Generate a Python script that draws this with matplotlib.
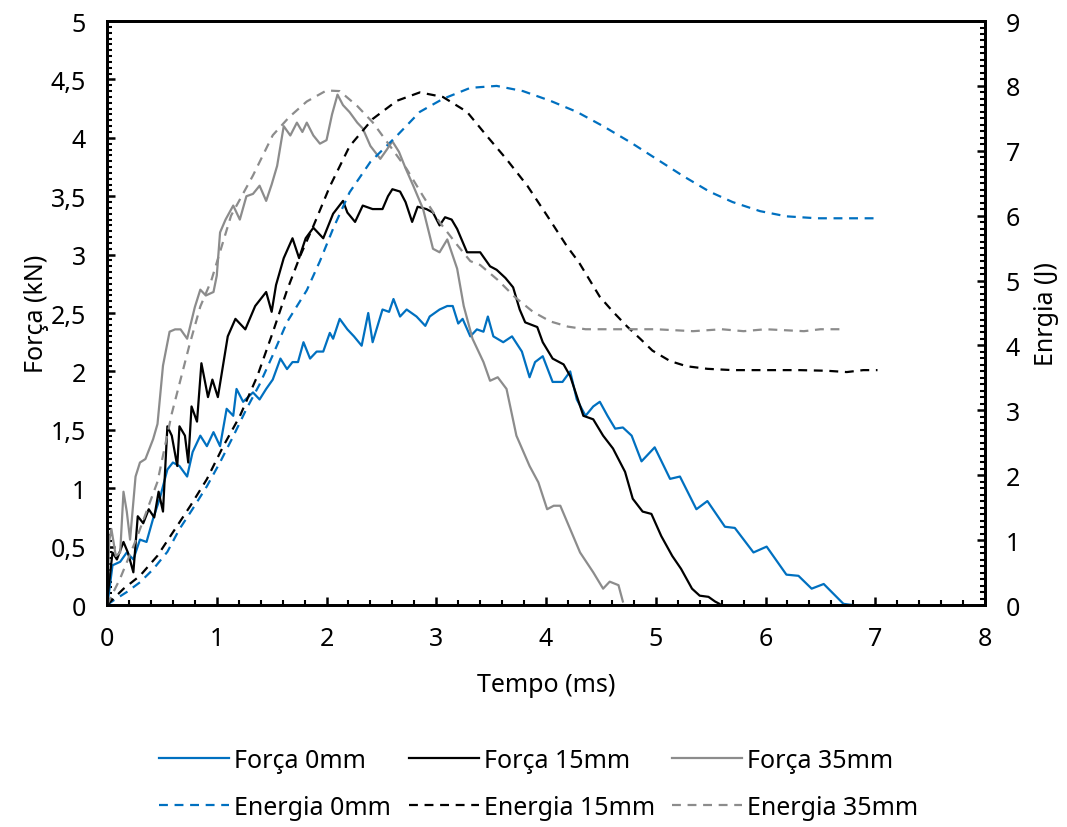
import matplotlib
matplotlib.use("Agg")
import matplotlib.pyplot as plt
from matplotlib.ticker import MultipleLocator, FuncFormatter

plt.rcParams['font.family'] = ['Noto Sans', 'DejaVu Sans']

# Força 0mm (kN)
f0_t = [0.0, 0.01, 0.05, 0.12, 0.18, 0.24, 0.30, 0.36, 0.42, 0.48, 0.55, 0.60, 0.66, 0.73,
        0.78, 0.85, 0.91, 0.97, 1.03, 1.09, 1.15, 1.18, 1.24, 1.33, 1.39, 1.45, 1.51, 1.58,
        1.64, 1.69, 1.74, 1.79, 1.85, 1.91, 1.97, 2.03, 2.06, 2.12, 2.19, 2.25, 2.32, 2.38,
        2.42, 2.51, 2.57, 2.61, 2.67, 2.73, 2.82, 2.90, 2.94, 3.03, 3.10, 3.15, 3.20, 3.24,
        3.31, 3.37, 3.43, 3.47, 3.52, 3.61, 3.69, 3.78, 3.85, 3.90, 3.97, 4.06, 4.15, 4.22,
        4.28, 4.36, 4.43, 4.49, 4.56, 4.63, 4.70, 4.78, 4.87, 4.99, 5.13, 5.22, 5.37, 5.47,
        5.63, 5.72, 5.89, 6.01, 6.19, 6.30, 6.42, 6.53, 6.71, 6.79]
f0_v = [0.0, 0.05, 0.34, 0.37, 0.45, 0.39, 0.56, 0.54, 0.74, 0.91, 1.16, 1.22, 1.19, 1.10,
        1.31, 1.45, 1.36, 1.48, 1.36, 1.68, 1.62, 1.85, 1.74, 1.82, 1.76, 1.85, 1.93, 2.11,
        2.02, 2.08, 2.08, 2.25, 2.11, 2.17, 2.17, 2.33, 2.28, 2.45, 2.36, 2.30, 2.22, 2.50,
        2.25, 2.53, 2.51, 2.62, 2.47, 2.53, 2.47, 2.39, 2.47, 2.53, 2.56, 2.56, 2.41, 2.45,
        2.30, 2.36, 2.34, 2.47, 2.30, 2.25, 2.30, 2.17, 1.95, 2.08, 2.13, 1.91, 1.91, 2.00,
        1.76, 1.62, 1.70, 1.74, 1.62, 1.51, 1.52, 1.45, 1.23, 1.35, 1.08, 1.10, 0.82, 0.89,
        0.67, 0.66, 0.45, 0.50, 0.26, 0.25, 0.14, 0.18, 0.01, 0.0]

# Força 15mm (kN)
f15_t = [0.0, 0.01, 0.05, 0.09, 0.15, 0.19, 0.24, 0.28, 0.33, 0.38, 0.43, 0.47, 0.51, 0.55,
         0.59, 0.64, 0.66, 0.71, 0.74, 0.77, 0.82, 0.86, 0.92, 0.96, 1.01, 1.10, 1.17, 1.26,
         1.35, 1.45, 1.50, 1.54, 1.61, 1.69, 1.75, 1.81, 1.88, 1.97, 2.06, 2.15, 2.19, 2.26,
         2.33, 2.42, 2.51, 2.56, 2.60, 2.67, 2.72, 2.78, 2.83, 2.91, 2.97, 3.03, 3.08, 3.14,
         3.19, 3.28, 3.40, 3.49, 3.55, 3.63, 3.70, 3.76, 3.81, 3.92, 3.97, 4.06, 4.16, 4.22,
         4.28, 4.34, 4.43, 4.52, 4.61, 4.72, 4.79, 4.88, 4.96, 5.05, 5.15, 5.23, 5.33, 5.40,
         5.48, 5.54, 5.58]
f15_v = [0.0, 0.11, 0.45, 0.39, 0.54, 0.45, 0.28, 0.76, 0.70, 0.82, 0.75, 0.97, 0.80, 1.53,
         1.45, 1.19, 1.53, 1.45, 1.22, 1.70, 1.57, 2.07, 1.78, 1.93, 1.78, 2.30, 2.45, 2.36,
         2.56, 2.68, 2.51, 2.74, 2.97, 3.14, 2.97, 3.14, 3.23, 3.14, 3.35, 3.46, 3.36, 3.28,
         3.42, 3.39, 3.39, 3.50, 3.56, 3.54, 3.45, 3.28, 3.41, 3.39, 3.36, 3.25, 3.32, 3.30,
         3.22, 3.02, 3.02, 2.90, 2.87, 2.80, 2.72, 2.53, 2.42, 2.38, 2.25, 2.11, 2.06, 1.96,
         1.79, 1.62, 1.59, 1.45, 1.34, 1.14, 0.91, 0.80, 0.78, 0.59, 0.42, 0.31, 0.14, 0.08,
         0.07, 0.03, 0.01]

# Força 35mm (kN)
f35_t = [0.0, 0.02, 0.04, 0.08, 0.12, 0.15, 0.18, 0.21, 0.26, 0.30, 0.35, 0.42, 0.46, 0.51,
         0.57, 0.62, 0.67, 0.73, 0.80, 0.85, 0.90, 0.97, 1.00, 1.03, 1.08, 1.15, 1.21, 1.27,
         1.33, 1.39, 1.45, 1.50, 1.55, 1.61, 1.67, 1.73, 1.78, 1.82, 1.88, 1.94, 2.00, 2.05,
         2.10, 2.15, 2.21, 2.28, 2.33, 2.40, 2.49, 2.55, 2.60, 2.66, 2.72, 2.79, 2.88, 2.97,
         3.03, 3.10, 3.19, 3.25, 3.33, 3.43, 3.49, 3.56, 3.64, 3.73, 3.85, 3.93, 4.01, 4.07,
         4.13, 4.22, 4.31, 4.43, 4.52, 4.58, 4.66, 4.70]
f35_v = [0.0, 0.55, 0.65, 0.42, 0.45, 0.97, 0.80, 0.56, 1.10, 1.22, 1.25, 1.42, 1.55, 2.05,
         2.34, 2.36, 2.36, 2.28, 2.55, 2.70, 2.65, 2.68, 2.82, 3.19, 3.30, 3.42, 3.30, 3.50,
         3.52, 3.59, 3.46, 3.60, 3.76, 4.10, 4.02, 4.13, 4.05, 4.13, 4.02, 3.95, 3.98, 4.20,
         4.37, 4.28, 4.22, 4.13, 4.08, 3.93, 3.82, 3.90, 3.97, 3.88, 3.74, 3.59, 3.39, 3.05,
         3.02, 3.13, 2.88, 2.56, 2.28, 2.08, 1.92, 1.95, 1.85, 1.45, 1.19, 1.05, 0.82, 0.85,
         0.85, 0.65, 0.45, 0.28, 0.14, 0.20, 0.17, 0.03]

# Energia 0mm (J)
e0_t = [0.0, 0.05, 0.18, 0.30, 0.42, 0.55, 0.66, 0.78, 0.91, 1.03, 1.15, 1.27, 1.39, 1.51,
        1.64, 1.82, 1.94, 2.06, 2.21, 2.40, 2.64, 2.85, 3.06, 3.31, 3.55, 3.79, 4.04, 4.28,
        4.52, 4.77, 5.01, 5.25, 5.49, 5.70, 5.95, 6.19, 6.47, 7.00]
e0_v = [0.0, 0.06, 0.20, 0.35, 0.55, 0.82, 1.17, 1.48, 1.83, 2.20, 2.60, 3.02, 3.40, 3.85,
        4.36, 4.85, 5.30, 5.80, 6.36, 6.83, 7.23, 7.60, 7.80, 7.97, 8.00, 7.92, 7.77, 7.60,
        7.38, 7.13, 6.87, 6.61, 6.37, 6.21, 6.07, 5.99, 5.96, 5.96]

# Energia 15mm (J)
e15_t = [0.0, 0.15, 0.30, 0.46, 0.60, 0.76, 0.91, 1.06, 1.21, 1.37, 1.51, 1.64, 1.76, 1.88,
         2.03, 2.21, 2.42, 2.64, 2.85, 3.06, 3.28, 3.46, 3.64, 3.83, 4.01, 4.19, 4.30, 4.49,
         4.61, 4.74, 4.86, 4.97, 5.13, 5.28, 5.47, 5.70, 6.01, 6.31, 6.56, 6.74, 6.89, 7.02]
e15_v = [0.0, 0.25, 0.45, 0.76, 1.12, 1.53, 1.94, 2.45, 2.91, 3.53, 4.20, 4.85, 5.38, 5.84,
         6.45, 7.07, 7.49, 7.77, 7.90, 7.83, 7.60, 7.23, 6.87, 6.46, 6.00, 5.53, 5.28, 4.75,
         4.52, 4.29, 4.10, 3.92, 3.76, 3.68, 3.64, 3.62, 3.62, 3.62, 3.61, 3.59, 3.62, 3.62]

# Energia 35mm (J)
e35_t = [0.0, 0.12, 0.27, 0.46, 0.59, 0.75, 0.85, 0.95, 1.13, 1.33, 1.51, 1.66, 1.82, 2.00,
         2.12, 2.28, 2.42, 2.58, 2.73, 2.88, 3.03, 3.19, 3.31, 3.40, 3.56, 3.72, 3.88, 4.04,
         4.20, 4.36, 5.00, 5.34, 5.60, 5.80, 6.00, 6.35, 6.50, 6.68]
e35_v = [0.0, 0.41, 1.03, 1.90, 2.95, 4.00, 4.60, 5.00, 6.00, 6.62, 7.24, 7.52, 7.76, 7.93,
         7.92, 7.69, 7.44, 7.07, 6.72, 6.30, 5.90, 5.55, 5.30, 5.24, 5.01, 4.74, 4.52, 4.37,
         4.29, 4.25, 4.25, 4.22, 4.25, 4.22, 4.25, 4.22, 4.25, 4.25]

blue = '#0070C0'
grey = '#8C8C8C'

fig = plt.figure(figsize=(10.67, 8.28), dpi=100)
ax = fig.add_axes([0.1003, 0.2681, 0.8229, 0.7053])
ax2 = ax.twinx()

l1, = ax.plot(f0_t, f0_v, color=blue, lw=1.6, label='Força 0mm')
l2, = ax.plot(f15_t, f15_v, color='black', lw=1.6, label='Força 15mm')
l3, = ax.plot(f35_t, f35_v, color=grey, lw=1.6, label='Força 35mm')
l4, = ax2.plot(e0_t, e0_v, color=blue, lw=1.6, dashes=(4, 3), label='Energia 0mm')
l5, = ax2.plot(e15_t, e15_v, color='black', lw=1.6, dashes=(4, 3), label='Energia 15mm')
l6, = ax2.plot(e35_t, e35_v, color=grey, lw=1.6, dashes=(4, 3), label='Energia 35mm')

ax.set_xlim(0, 8)
ax.set_ylim(0, 5)
ax2.set_ylim(0, 9)

comma = FuncFormatter(lambda v, p: ('%g' % v).replace('.', ','))
ax.xaxis.set_major_locator(MultipleLocator(1))
ax.xaxis.set_minor_locator(MultipleLocator(0.2))
ax.yaxis.set_major_locator(MultipleLocator(0.5))
ax.yaxis.set_minor_locator(MultipleLocator(0.05))
ax.yaxis.set_major_formatter(comma)
ax2.yaxis.set_major_locator(MultipleLocator(1))
ax2.yaxis.set_minor_locator(MultipleLocator(0.1))

for a in (ax, ax2):
    for s in a.spines.values():
        s.set_linewidth(2.0)
    a.tick_params(which='major', direction='in', length=6, width=1.8, labelsize=18, pad=15)
    a.tick_params(which='minor', direction='in', length=3.5, width=1.5)
ax.tick_params(axis='x', pad=15)

ax.set_xlabel('Tempo (ms)', fontsize=18, labelpad=15)
ax.set_ylabel('Força (kN)', fontsize=18, labelpad=1)
ax2.set_ylabel('Enrgia (J)', fontsize=18, labelpad=10)

fig.legend(handles=[l1, l4, l2, l5, l3, l6], ncol=3, loc='center',
           bbox_to_anchor=(0.505, 0.052), frameon=False, fontsize=18,
           handlelength=2.8, handletextpad=0.2, columnspacing=0.7,
           labelspacing=0.9, borderpad=0.2)

fig.savefig('out.png', dpi=100)
